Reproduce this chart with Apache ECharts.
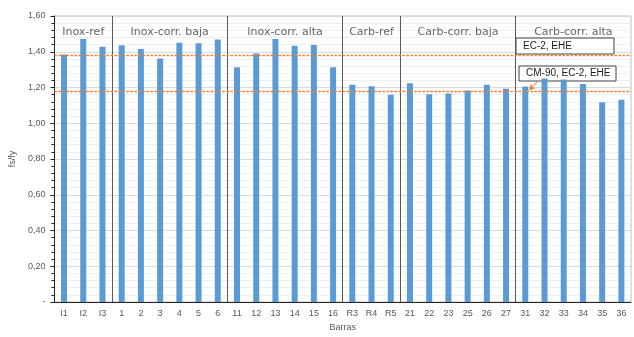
<!DOCTYPE html>
<html>
<head>
<meta charset="utf-8">
<script src="https://cdn.jsdelivr.net/npm/echarts@6/dist/echarts.min.js"></script>
<style>
  html, body { margin: 0; padding: 0; background: #ffffff; }
  #chart { width: 634px; height: 337px; }
</style>
</head>
<body>
<div id="chart"></div>
<script>
// Bars tested, grouped by material and corrosion level
const categories = ['I1','I2','I3','1','2','3','4','5','6','11','12','13','14','15','16',
  'R3','R4','R5','21','22','23','25','26','27','31','32','33','34','35','36'];
// fs/fy ratio for each bar
const ratios = [1.385,1.472,1.428, 1.437,1.415,1.362,1.450,1.447,1.468,
  1.313,1.390,1.472,1.434,1.438,1.313, 1.216,1.207,1.159,
  1.224,1.162,1.166,1.183,1.215,1.193, 1.206,1.250,1.245,1.219,1.118,1.131];
// Groups of bars and how many bars each holds
const groupNames = ['Inox-ref','Inox-corr. baja','Inox-corr. alta','Carb-ref','Carb-corr. baja','Carb-corr. alta'];
const groupSizes = [3,6,6,3,6,6];
// Code limits drawn as dashed reference lines
const limitNames = ['EC-2, EHE','CM-90, EC-2, EHE'];
const limitValues = [1.38, 1.18];
const yTicks = [0,0.2,0.4,0.6,0.8,1.0,1.2,1.4,1.6];

const FONT = 'Liberation Sans';
const WIDE_FONT = 'DejaVu Sans';
const chart = echarts.init(document.getElementById('chart'));

// group boundaries and centres on a 0..N linear axis laid over the categories
const bounds = [];
const centres = [];
let acc = 0;
groupSizes.forEach(n => { centres.push(acc + n / 2); acc += n; bounds.push(acc); });
bounds.pop();

const groupLabelY = 1.51;

const option = {
  animation: false,
  backgroundColor: '#ffffff',
  grid: { left: 53, right: 3, top: 16, bottom: 29, show: true, borderColor: '#bfbfbf', borderWidth: 1 },
  xAxis: [{
    type: 'category',
    data: categories,
    name: 'Barras',
    nameLocation: 'middle',
    nameGap: 21,
    nameTextStyle: { color: '#595959', fontSize: 9, fontFamily: FONT },
    axisLine: { lineStyle: { color: '#262626', width: 1 } },
    axisTick: { show: false },
    axisLabel: { color: '#595959', fontSize: 9, fontFamily: FONT, margin: 7, interval: 0 },
    splitLine: { show: false }
  }, {
    type: 'value',
    min: 0,
    max: categories.length,
    show: false
  }],
  yAxis: {
    type: 'value',
    min: yTicks[0],
    max: yTicks[yTicks.length - 1],
    interval: 0.2,
    name: 'fs/fy',
    nameLocation: 'middle',
    nameRotate: 90,
    nameGap: 31,
    nameTextStyle: { color: '#595959', fontSize: 9, fontFamily: FONT },
    axisLine: { show: true, lineStyle: { color: '#262626', width: 1 } },
    axisTick: { show: true, length: 4, lineStyle: { color: '#262626' } },
    minorTick: { show: true, splitNumber: 5, length: 3, lineStyle: { color: '#262626' } },
    axisLabel: {
      color: '#595959', fontSize: 9, fontFamily: FONT, margin: 9,
      formatter: v => v === 0 ? '-' : v.toFixed(2).replace('.', ',')
    },
    splitLine: { show: true, lineStyle: { color: '#d9d9d9', width: 1 } },
    minorSplitLine: { show: true, lineStyle: { color: '#efefef', width: 1 } }
  },
  series: [{
    type: 'bar',
    xAxisIndex: 0,
    data: ratios,
    barWidth: 6,
    itemStyle: { color: '#5b9bd5' },
    z: 3
  }, {
    type: 'scatter',
    xAxisIndex: 1,
    symbolSize: 0,
    data: groupNames.map((g, i) => ({ name: g, value: [centres[i], groupLabelY] })),
    label: {
      show: true,
      position: 'inside',
      formatter: p => p.name,
      color: '#404040',
      fontSize: 11,
      fontFamily: WIDE_FONT
    },
    silent: true,
    z: 5,
    markLine: {
      silent: true,
      symbol: 'none',
      label: { show: false },
      animation: false,
      lineStyle: { color: '#595959', type: 'solid', width: 1 },
      data: bounds.map(b => ({ xAxis: b }))
    }
  }, {
    // code limits and the pointer from the lower label box to bar 31
    type: 'scatter',
    xAxisIndex: 1,
    symbolSize: 0,
    data: [],
    silent: true,
    z: 6,
    markLine: {
      silent: true,
      symbol: 'none',
      label: { show: false },
      animation: false,
      lineStyle: { color: '#ed7d31', type: [2.5, 1.5], width: 1.4 },
      data: [
        ...limitValues.map(v => ({ yAxis: v })),
        [
          { coord: [25.12, 1.232], symbol: 'none', lineStyle: { type: 'solid', width: 1 } },
          { coord: [24.70, 1.185], symbol: 'arrow', symbolSize: [5, 6] }
        ]
      ]
    }
  }]
};
chart.setOption(option);

// label boxes for the two limit lines
const boxes = [
  { text: limitNames[0], x: 516, y: 38, w: 98, h: 16 },
  { text: limitNames[1], x: 519, y: 66, w: 97, h: 15 }
];
chart.setOption({
  graphic: boxes.map(b => ({
    type: 'group',
    z: 100,
    children: [{
      type: 'rect',
      shape: { x: b.x, y: b.y, width: b.w, height: b.h },
      style: { fill: '#ffffff', stroke: '#404040', lineWidth: 1 }
    }, {
      type: 'text',
      x: b.x + 7,
      y: b.y + b.h / 2,
      style: { text: b.text, fill: '#1a1a1a', font: '10px "' + FONT + '"', textVerticalAlign: 'middle' }
    }]
  }))
});
</script>
</body>
</html>
